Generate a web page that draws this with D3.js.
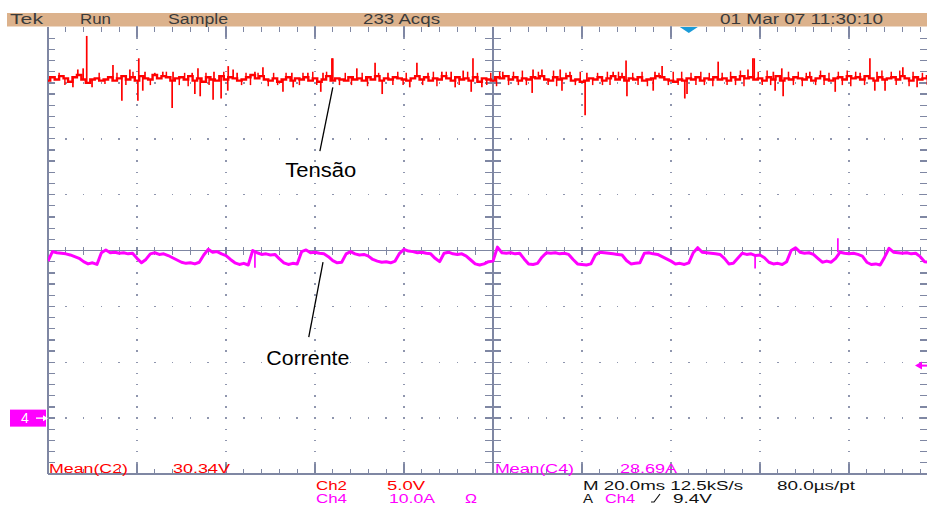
<!DOCTYPE html>
<html>
<head>
<meta charset="utf-8">
<script src="https://cdn.jsdelivr.net/npm/d3@7"></script>
<style>
  html, body { margin: 0; padding: 0; background: #ffffff; }
  svg { display: block; }
  text { font-family: "Liberation Sans", Arial, sans-serif; }
</style>
</head>
<body>
<svg id="scope" width="927" height="509"></svg>
<script>
// ---- acquisition settings ----
const msPerDiv = 20;
const voltsPerDiv = 5;     // Ch2
const ampsPerDiv = 10;     // Ch4
const triggerLevel = 9.4;  // Ch4 trigger level
const triggerTime = 144;   // ms from left edge

// ---- readout texts ----
const headerTexts = ["Tek", "Run", "Sample", "233 Acqs", "01 Mar 07 11:30:10"];
const meanLabels = ["Mean(C2)", "Mean(C4)"];
const meanValues = [30.34, 28.69];
const meanUnits = ["V", "A"];
const channelNames = ["Ch2", "Ch4"];
const channelScales = ["5.0V", "10.0A"];
const timebaseTexts = ["M 20.0ms 12.5kS/s", "80.0\u00b5s/pt"];
const triggerTexts = ["A", "Ch4", "9.4V"];
const traceNames = ["Tensão", "Corrente"];

// ---- Ch2 voltage, one sample per ms (V) ----
const ch2Volts = [
  30.2, 30.5, 30.3, 30.6, 30.4, 30.1, 30.5, 30.7, 30.3, 30.0,
  30.3, 30.4, 30.2, 30.3, 30.5, 30.2, 30.4, 30.6, 30.3, 30.5,
  30.2, 30.6, 30.4, 30.3, 30.7, 30.4, 30.6, 30.5, 30.2, 30.4,
  30.5, 30.3, 30.6, 30.2, 30.4, 30.1, 30.5, 30.3, 30.2, 30.6,
  30.3, 30.5, 30.4, 30.2, 30.3, 30.5, 30.7, 30.4, 30.6, 30.3,
  30.2, 30.4, 30.1, 30.3, 30.5, 30.2, 30.4, 30.3, 30.5, 30.2,
  30.4, 30.1, 30.3, 30.6, 30.2, 30.4, 30.3, 30.2, 30.5, 30.3,
  30.4, 30.2, 30.5, 30.3, 30.6, 30.2, 30.4, 30.3, 30.5, 30.4,
  30.3, 30.2, 30.4, 30.6, 30.3, 30.5, 30.2, 30.4, 30.3, 30.6,
  30.4, 30.2, 30.5, 30.3, 30.4, 30.2, 30.5, 30.1, 30.4, 30.3,
  30.2, 30.5, 30.4, 30.6, 30.3, 30.5, 30.2, 30.4, 30.3, 30.5,
  30.4, 30.6, 30.3, 30.2, 30.5, 30.3, 30.4, 30.6, 30.2, 30.3,
  30.1, 30.2, 30.4, 30.3, 30.5, 30.2, 30.4, 30.6, 30.3, 30.5,
  30.2, 30.4, 30.3, 30.5, 30.2, 30.3, 30.4, 30.6, 30.5, 30.3,
  30.2, 30.1, 30.3, 30.2, 30.4, 30.3, 30.5, 30.2, 30.4, 30.3,
  30.5, 30.3, 30.4, 30.2, 30.5, 30.3, 30.6, 30.4, 30.5, 30.3,
  30.4, 30.2, 30.5, 30.3, 30.6, 30.2, 30.4, 30.3, 30.5, 30.4,
  30.3, 30.5, 30.2, 30.4, 30.6, 30.3, 30.2, 30.4, 30.5, 30.3,
  30.6, 30.4, 30.5, 30.3, 30.6, 30.4, 30.2, 30.5, 30.3, 30.4,
  30.5, 30.3, 30.6, 30.4, 30.2, 30.5, 30.3, 30.4, 30.6, 30.3,
  30.4
];

// Ch2 glitches: [time ms, peak V]
const ch2Spikes = [
  [5.6, 29.6], [6.7, 31.2], [7.9, 31.3], [8.7, 34.2], [9.9, 29.6], [14.6, 31.6],
  [16.6, 28.4], [18.4, 31.2], [20.2, 28.4], [20.4, 32.2], [21.3, 29.3], [21.8, 31.0],
  [24.0, 30.9], [25.8, 31.0], [27.9, 27.75], [28.1, 31.0], [32.4, 30.9], [33.0, 29.0],
  [33.7, 31.3], [34.2, 28.8], [37.1, 28.5], [37.3, 31.0], [38.9, 28.6], [40.4, 29.3],
  [40.5, 31.5], [41.6, 31.2], [42.5, 30.9], [46.5, 31.0], [48.3, 31.4], [52.8, 29.2],
  [54.8, 30.9], [55.1, 29.6], [58.4, 30.9], [61.3, 29.2], [61.8, 30.9], [63.8, 32.2],
  [64.0, 32.2], [69.4, 31.3], [73.5, 31.8], [75.1, 29.0], [76.4, 30.9], [81.3, 29.6],
  [82.9, 31.8], [85.4, 30.9], [88.5, 31.0], [90.6, 31.0], [91.5, 29.6], [93.3, 31.1],
  [95.1, 29.2], [95.5, 32.2], [97.5, 29.6], [102.2, 31.0], [108.8, 29.1], [109.0, 31.2],
  [111.0, 31.2], [115.1, 31.2], [115.5, 29.3], [117.3, 31.0], [120.7, 27.1], [121.1, 30.9],
  [127.0, 31.0], [129.0, 30.9], [129.9, 32.0], [130.1, 28.8], [136.0, 29.3], [136.4, 31.0],
  [138.0, 31.5], [143.1, 28.6], [143.6, 29.0], [150.6, 31.9], [157.3, 31.2], [158.4, 32.2],
  [158.7, 32.2], [163.0, 31.0], [163.4, 29.3], [164.9, 31.3], [165.2, 28.8], [171.2, 31.0],
  [176.9, 29.2], [182.5, 30.9], [184.7, 32.2], [185.8, 29.3], [186.3, 31.0], [188.1, 29.3],
  [192.1, 31.4], [195.3, 29.6]
];

// Ch2 small ripple excursions: [time ms, peak V]
const ch2Ripple = [
  [2.5, 30.9], [3.8, 29.8], [11.5, 30.9], [12.8, 29.9], [15.5, 30.9], [17.5, 29.8],
  [19.1, 31.0], [23.0, 29.8], [26.6, 31.0], [29.5, 29.8], [30.7, 30.9], [31.5, 29.7],
  [35.5, 30.9], [36.2, 29.8], [39.5, 31.0], [43.5, 29.8], [44.5, 30.9], [45.5, 29.8],
  [47.2, 30.9], [49.5, 29.7], [50.7, 30.9], [51.6, 29.8], [53.5, 30.9], [56.5, 29.8],
  [57.3, 30.9], [59.5, 31.0], [60.4, 29.8], [62.6, 31.0], [65.5, 29.8], [66.8, 30.9],
  [68.2, 29.8], [70.6, 30.9], [71.8, 29.7], [74.3, 30.9], [77.5, 29.8], [78.6, 31.0],
  [79.8, 29.8], [80.5, 30.9], [84.2, 29.8], [86.6, 31.0], [87.4, 29.7], [89.5, 31.0],
  [92.4, 29.8], [94.3, 31.0], [96.5, 30.9], [98.6, 29.8], [99.5, 30.9], [100.8, 29.7],
  [101.5, 31.0], [103.5, 29.8], [104.6, 31.0], [105.7, 29.8], [106.6, 31.1], [107.5, 29.8],
  [110.2, 31.0], [112.4, 29.8], [113.6, 31.1], [114.3, 29.7], [116.4, 30.9], [118.5, 29.8],
  [119.6, 31.0], [122.4, 29.8], [123.5, 30.9], [124.6, 29.8], [125.7, 31.0], [126.3, 29.8],
  [128.2, 31.0], [131.4, 30.9], [132.6, 29.8], [133.5, 31.0], [134.7, 29.7], [137.3, 30.9],
  [139.4, 29.8], [140.5, 31.0], [141.6, 29.8], [142.4, 31.0], [144.5, 30.9], [145.6, 29.8],
  [146.7, 31.0], [147.5, 29.8], [148.6, 30.9], [149.4, 29.7], [151.5, 30.9], [152.6, 29.8],
  [153.4, 31.0], [154.5, 29.8], [155.6, 31.1], [156.4, 29.7], [159.6, 31.0], [160.5, 29.8],
  [161.6, 31.1], [162.4, 29.8], [166.4, 31.0], [167.5, 29.8], [168.6, 31.0], [169.5, 29.7],
  [170.4, 30.9], [172.5, 29.8], [173.6, 31.1], [174.4, 29.8], [175.5, 30.9], [177.6, 31.0],
  [178.5, 29.8], [179.6, 31.1], [180.4, 29.7], [181.5, 31.0], [183.5, 29.8], [187.4, 31.1],
  [189.5, 31.0], [190.6, 29.8], [191.4, 31.1], [193.5, 29.7], [194.4, 31.0], [196.5, 30.9],
  [197.6, 29.8], [198.5, 31.1], [199.5, 29.8]
];

// ---- Ch4 current, one sample per ms (A) ----
const ch4Amps = [
  28.1, 29.8, 29.6, 29.5, 29.4, 29.2, 28.9, 28.6, 28.0, 27.6,
  27.8, 27.5, 29.6, 30.1, 29.6, 29.7, 29.5, 29.6, 29.4, 29.5,
  28.6, 27.8, 28.4, 29.4, 29.6, 29.3, 29.4, 29.1, 28.7, 28.3,
  27.9, 27.7, 27.8, 27.6, 27.9, 29.2, 30.2, 29.7, 29.8, 29.4,
  29.1, 28.4, 27.8, 27.5, 27.7, 27.4, 30.0, 29.6, 29.3, 29.4,
  29.2, 29.3, 28.5, 27.8, 27.5, 27.7, 27.6, 29.8, 30.1, 29.6,
  29.7, 29.5, 29.4, 28.9, 28.2, 27.8, 27.9, 29.4, 29.8, 29.4,
  29.2, 29.3, 29.0, 28.4, 28.1, 27.9, 28.0, 27.8, 28.1, 29.5,
  30.2, 29.9, 29.8, 29.6, 29.7, 29.5, 29.4, 28.6, 28.0, 29.5,
  29.7, 29.4, 29.3, 29.4, 29.0, 28.3, 27.6, 27.4, 27.6, 28.0,
  28.1, 30.6, 29.6, 29.5, 29.6, 29.4, 29.5, 28.5, 27.6, 27.5,
  27.7, 28.8, 29.6, 29.5, 29.6, 29.4, 29.5, 29.3, 28.4, 27.6,
  27.5, 27.4, 27.6, 29.2, 29.7, 29.6, 29.5, 29.4, 29.3, 29.2,
  28.2, 27.6, 27.7, 27.8, 29.5, 29.6, 29.4, 29.3, 28.9, 28.5,
  28.1, 27.6, 27.7, 27.5, 27.8, 29.6, 30.5, 29.7, 29.6, 29.5,
  29.4, 29.3, 28.6, 27.6, 27.7, 28.6, 29.5, 29.3, 29.4, 29.1,
  29.2, 28.7, 27.9, 27.6, 27.7, 27.5, 28.0, 30.0, 30.5, 29.7,
  29.5, 29.6, 29.3, 28.6, 27.9, 28.1, 27.9, 28.6, 29.7, 29.5,
  29.4, 29.5, 29.3, 29.0, 27.9, 27.5, 27.6, 27.4, 28.8, 30.4,
  29.7, 29.6, 29.5, 29.6, 29.4, 29.5, 28.9, 28.0, 27.9, 28.0,
  28.1
];

// Ch4 glitches: [time ms, peak A]
const ch4Spikes = [[46.5, 26.9], [158.9, 26.8], [177.5, 32.2]];

// ---- screen geometry ----
const plotLeft = 48, plotTop = 27, divW = 89, divH = 55.875;
const nDivX = 10, nDivY = 8, groundDiv = 7;
const viewRight = 927;

const gridColor = "#7f87a3";
const dotColor = "#8f96ae";
const red = "#ff0000";
const magenta = "#ff00ff";

const svg = d3.select("#scope");

const gx = d3.scaleLinear().domain([0, nDivX]).range([plotLeft, plotLeft + nDivX * divW]);
const gy = d3.scaleLinear().domain([0, nDivY]).range([plotTop, plotTop + nDivY * divH]);
const x = d3.scaleLinear().domain([0, msPerDiv * nDivX]).range(gx.range());
const yV = d3.scaleLinear()
  .domain([-(nDivY - groundDiv) * voltsPerDiv, groundDiv * voltsPerDiv])
  .range([gy(nDivY), gy(0)]);
const yI = d3.scaleLinear()
  .domain([-(nDivY - groundDiv) * ampsPerDiv, groundDiv * ampsPerDiv])
  .range([gy(nDivY), gy(0)]);

// ---- status bar ----
svg.append("rect").attr("x", 7).attr("y", 13).attr("width", viewRight - 7).attr("height", 13.5)
  .attr("fill", "#dcb28c");
const headerX = [10, 80, 168, 363, 720];
const headerW = [33, 31, 60, 77, 163];
svg.append("g").selectAll("text").data(headerTexts).join("text")
  .attr("x", (d, i) => headerX[i]).attr("y", 24)
  .attr("textLength", (d, i) => headerW[i]).attr("lengthAdjust", "spacingAndGlyphs")
  .attr("font-size", 14).attr("fill", "#3a3a3a").text(d => d);

// ---- graticule ----
const grid = svg.append("g").attr("shape-rendering", "crispEdges");
const minorX = d3.range(0, nDivX * 5 + 1).map(k => ({ k, px: gx(k / 5) })).filter(d => d.px <= viewRight);
const minorY = d3.range(0, nDivY * 5 + 1).map(k => ({ k, py: gy(k / 5) }));

// dotted division lines
const dots = [];
d3.range(1, nDivX).filter(i => i !== nDivX / 2).forEach(i => {
  minorY.forEach(m => dots.push([gx(i), m.py]));
});
d3.range(1, nDivY).filter(j => j !== nDivY / 2).forEach(j => {
  minorX.forEach(m => dots.push([m.px, gy(j)]));
});
grid.selectAll("rect.dot").data(dots).join("rect").attr("class", "dot")
  .attr("x", d => d[0] - 0.75).attr("y", d => d[1] - 0.75)
  .attr("width", 1.5).attr("height", 1.5).attr("fill", dotColor);

function seg(g, x1, y1, x2, y2, w) {
  g.append("line").attr("x1", x1).attr("y1", y1).attr("x2", x2).attr("y2", y2)
    .attr("stroke", gridColor).attr("stroke-width", w || 1);
}
// border lines
seg(grid, gx(0), gy(0), gx(0), gy(nDivY), 1.5);
seg(grid, gx(0), gy(nDivY), viewRight, gy(nDivY), 1.5);
// centre cross
seg(grid, gx(0), gy(nDivY / 2), viewRight, gy(nDivY / 2), 1.5);
seg(grid, gx(nDivX / 2), gy(0), gx(nDivX / 2), gy(nDivY), 1.5);

minorX.filter(m => m.k > 0).forEach(m => {
  const len = m.k % 5 === 0 ? 10 : 5;
  seg(grid, m.px, gy(0), m.px, gy(0) + len, 1.3);
  seg(grid, m.px, gy(nDivY), m.px, gy(nDivY) - len, 1.3);
  seg(grid, m.px, gy(nDivY / 2) - 4, m.px, gy(nDivY / 2) + 4, 1.3);
});
minorY.filter(m => m.k > 0 && m.k < nDivY * 5).forEach(m => {
  seg(grid, gx(0), m.py, gx(0) + 7, m.py, 1.3);
  seg(grid, viewRight - 7, m.py, viewRight, m.py, 1.3);
  seg(grid, gx(nDivX / 2) - 8, m.py, gx(nDivX / 2) + 8, m.py, 1.3);
});

// ---- traces ----
svg.append("clipPath").attr("id", "screen").append("rect")
  .attr("x", gx(0)).attr("y", gy(0)).attr("width", viewRight - gx(0)).attr("height", gy(nDivY) - gy(0));
const traces = svg.append("g").attr("clip-path", "url(#screen)");

const voltLine = d3.line().curve(d3.curveStep).x((d, i) => x(i)).y(d => yV(d));
traces.append("path").datum(ch2Volts).attr("d", voltLine)
  .attr("fill", "none").attr("stroke", red).attr("stroke-width", 2.4);
traces.append("g").selectAll("line").data(ch2Ripple).join("line")
  .attr("x1", d => x(d[0])).attr("x2", d => x(d[0]))
  .attr("y1", d => yV(ch2Volts[Math.round(d[0])])).attr("y2", d => yV(d[1]))
  .attr("stroke", red).attr("stroke-width", 1.5);
traces.append("g").selectAll("line").data(ch2Spikes).join("line")
  .attr("x1", d => x(d[0])).attr("x2", d => x(d[0]))
  .attr("y1", d => yV(ch2Volts[Math.round(d[0])])).attr("y2", d => yV(d[1]))
  .attr("stroke", red).attr("stroke-width", 1.7);

const ampLine = d3.line().x((d, i) => x(i)).y(d => yI(d));
traces.append("path").datum(ch4Amps).attr("d", ampLine)
  .attr("fill", "none").attr("stroke", magenta).attr("stroke-width", 3).attr("stroke-linejoin", "round");
traces.append("g").selectAll("line").data(ch4Spikes).join("line")
  .attr("x1", d => x(d[0])).attr("x2", d => x(d[0]))
  .attr("y1", d => yI(ch4Amps[Math.round(d[0])])).attr("y2", d => yI(d[1]))
  .attr("stroke", magenta).attr("stroke-width", 1.7);

// ---- trace annotations (in channel units) ----
const ann = svg.append("g");
ann.append("line").attr("x1", x(64.0)).attr("y1", yV(29.6)).attr("x2", x(61.1)).attr("y2", yV(23.9))
  .attr("stroke", "#000").attr("stroke-width", 1.3);
ann.append("text").attr("x", x(61.3)).attr("y", yV(21.6)).attr("text-anchor", "middle")
  .attr("font-size", 20).attr("textLength", 71).attr("lengthAdjust", "spacingAndGlyphs")
  .attr("fill", "#000").text(traceNames[0]);
ann.append("line").attr("x1", x(61.8)).attr("y1", yI(27.9)).attr("x2", x(58.6)).attr("y2", yI(14.5))
  .attr("stroke", "#000").attr("stroke-width", 1.3);
ann.append("text").attr("x", x(58.4)).attr("y", yI(9.5)).attr("text-anchor", "middle")
  .attr("font-size", 20).attr("textLength", 83).attr("lengthAdjust", "spacingAndGlyphs")
  .attr("fill", "#000").text(traceNames[1]);

// ---- markers ----
// trigger position
const tx = x(triggerTime);
svg.append("path").attr("d", `M${tx - 9},${gy(0)} L${tx + 9},${gy(0)} L${tx},${gy(0) + 6} Z`)
  .attr("fill", "#1b9bd8");
// Ch4 ground reference
const g4 = yI(0);
svg.append("rect").attr("x", 10).attr("y", g4 - 8.5).attr("width", 36).attr("height", 17).attr("fill", magenta);
svg.append("text").attr("x", 21).attr("y", g4 + 5).attr("font-size", 14).attr("fill", "#fff").text("4");
svg.append("line").attr("x1", 36).attr("y1", g4).attr("x2", 44).attr("y2", g4).attr("stroke", "#fff").attr("stroke-width", 1.4);
svg.append("path").attr("d", `M48,${g4} L43,${g4 - 3} L43,${g4 + 3} Z`).attr("fill", "#fff");
// trigger level
const tl = yI(triggerLevel);
svg.append("path").attr("d", `M915,${tl} L922,${tl - 4} L922,${tl + 4} Z`).attr("fill", magenta);
svg.append("line").attr("x1", 920).attr("y1", tl).attr("x2", viewRight).attr("y2", tl)
  .attr("stroke", magenta).attr("stroke-width", 2);

// ---- readouts ----
const ro = svg.append("g").attr("font-size", 12);
function label(txt, px, py, w, col) {
  ro.append("text").attr("x", px).attr("y", py).attr("textLength", w)
    .attr("lengthAdjust", "spacingAndGlyphs").attr("fill", col).text(txt);
}
const meanCols = [red, magenta];
const meanX = [49, 495], meanValX = [173, 620];
meanLabels.forEach((m, i) => {
  label(m, meanX[i], 473, 79, meanCols[i]);
  label(meanValues[i].toFixed(2) + meanUnits[i], meanValX[i], 473, 57, meanCols[i]);
});
const row1 = 489.5, row2 = 503;
label(channelNames[0], 316, row1, 31, red);
label(channelScales[0], 387, row1, 38, red);
label(channelNames[1], 316, row2, 31, magenta);
label(channelScales[1], 389, row2, 46, magenta);
label("\u03a9", 465, row2, 12, magenta);
label(timebaseTexts[0], 583, row1, 160, "#111");
label(timebaseTexts[1], 777, row1, 78, "#111");
label(triggerTexts[0], 583, row2, 10, "#111");
label(triggerTexts[1], 605, row2, 30, magenta);
label(triggerTexts[2], 673, row2, 39, "#111");
// rising-edge slope symbol
ro.append("path").attr("d", "M651,502 L654,502 L660,494").attr("fill", "none")
  .attr("stroke", "#111").attr("stroke-width", 1.2);
</script>
</body>
</html>
